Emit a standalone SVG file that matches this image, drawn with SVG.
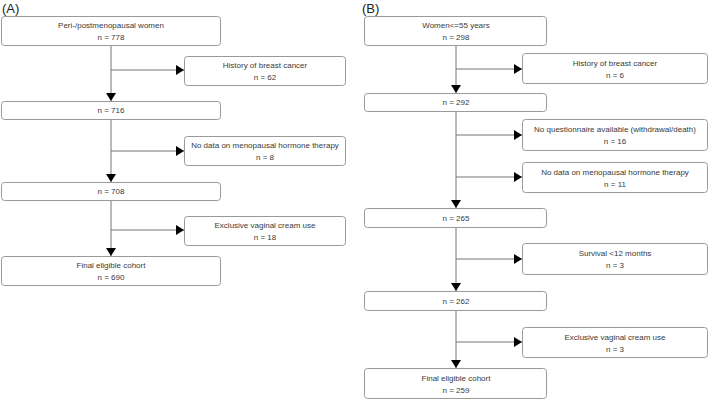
<svg xmlns="http://www.w3.org/2000/svg" width="709" height="400" viewBox="0 0 709 400">
<defs>
<style>
.box{fill:#fff;stroke:#9a9a9a;stroke-width:1}
.t{font-family:"Liberation Sans",Arial,sans-serif;font-size:8px;fill:#3a3a3a;text-anchor:middle}
.lab{font-family:"Liberation Sans",Arial,sans-serif;font-size:13px;fill:#222}
.c{stroke:#777;stroke-width:1;fill:none}
</style>
<marker id="ah" markerWidth="9" markerHeight="10" refX="8" refY="5" orient="auto" markerUnits="userSpaceOnUse">
<path d="M0,0 L8,5 L0,10 Z" fill="#000"/>
</marker>
</defs>
<rect width="709" height="400" fill="#fff"/>
<text class="lab" x="2" y="13">(A)</text>
<text class="lab" x="362" y="13">(B)</text>
<g id="connectors">
<line class="c" x1="111" y1="45" x2="111" y2="101" marker-end="url(#ah)"/>
<line class="c" x1="111" y1="70" x2="184" y2="70" marker-end="url(#ah)"/>
<line class="c" x1="111" y1="119" x2="111" y2="182" marker-end="url(#ah)"/>
<line class="c" x1="111" y1="151" x2="184" y2="151" marker-end="url(#ah)"/>
<line class="c" x1="111" y1="200" x2="111" y2="256" marker-end="url(#ah)"/>
<line class="c" x1="111" y1="230" x2="184" y2="230" marker-end="url(#ah)"/>
<line class="c" x1="456" y1="45" x2="456" y2="93" marker-end="url(#ah)"/>
<line class="c" x1="456" y1="69" x2="522" y2="69" marker-end="url(#ah)"/>
<line class="c" x1="456" y1="111" x2="456" y2="208" marker-end="url(#ah)"/>
<line class="c" x1="456" y1="135" x2="522" y2="135" marker-end="url(#ah)"/>
<line class="c" x1="456" y1="177" x2="522" y2="177" marker-end="url(#ah)"/>
<line class="c" x1="456" y1="227" x2="456" y2="291" marker-end="url(#ah)"/>
<line class="c" x1="456" y1="259" x2="522" y2="259" marker-end="url(#ah)"/>
<line class="c" x1="456" y1="310" x2="456" y2="368" marker-end="url(#ah)"/>
<line class="c" x1="456" y1="342" x2="522" y2="342" marker-end="url(#ah)"/>
</g>
<g id="A1"><rect class="box" x="1.5" y="16.5" width="219" height="29" rx="3"/><text class="t" x="111" y="28">Peri-/postmenopausal women</text><text class="t" x="111" y="40">n = 778</text></g>
<g id="A2"><rect class="box" x="184.5" y="56.5" width="161" height="29" rx="3"/><text class="t" x="265" y="68">History of breast cancer</text><text class="t" x="265" y="80">n = 62</text></g>
<g id="A3"><rect class="box" x="1.5" y="101.5" width="219" height="18" rx="3"/><text class="t" x="111" y="113">n = 716</text></g>
<g id="A4"><rect class="box" x="184.5" y="136.5" width="161" height="29" rx="3"/><text class="t" x="265" y="148">No data on menopausal hormone therapy</text><text class="t" x="265" y="160">n = 8</text></g>
<g id="A5"><rect class="box" x="1.5" y="182.5" width="219" height="18" rx="3"/><text class="t" x="111" y="194">n = 708</text></g>
<g id="A6"><rect class="box" x="184.5" y="216.5" width="161" height="29" rx="3"/><text class="t" x="265" y="228">Exclusive vaginal cream use</text><text class="t" x="265" y="240">n = 18</text></g>
<g id="A7"><rect class="box" x="1.5" y="256.5" width="219" height="29" rx="3"/><text class="t" x="111" y="268">Final eligible cohort</text><text class="t" x="111" y="280">n = 690</text></g>
<g id="B1"><rect class="box" x="364.5" y="16.5" width="182" height="29" rx="3"/><text class="t" x="456" y="28">Women&lt;=55 years</text><text class="t" x="456" y="40">n = 298</text></g>
<g id="B2"><rect class="box" x="522.5" y="53.5" width="185" height="30" rx="3"/><text class="t" x="615" y="66">History of breast cancer</text><text class="t" x="615" y="78">n = 6</text></g>
<g id="B3"><rect class="box" x="364.5" y="93.5" width="182" height="18" rx="3"/><text class="t" x="456" y="105">n = 292</text></g>
<g id="B4"><rect class="box" x="522.5" y="119.5" width="185" height="31" rx="3"/><text class="t" x="615" y="132">No questionnaire available (withdrawal/death)</text><text class="t" x="615" y="144">n = 16</text></g>
<g id="B5"><rect class="box" x="522.5" y="162.5" width="185" height="30" rx="3"/><text class="t" x="615" y="175">No data on menopausal hormone therapy</text><text class="t" x="615" y="187">n = 11</text></g>
<g id="B6"><rect class="box" x="364.5" y="208.5" width="182" height="19" rx="3"/><text class="t" x="456" y="221">n = 265</text></g>
<g id="B7"><rect class="box" x="522.5" y="243.5" width="185" height="31" rx="3"/><text class="t" x="615" y="256">Survival &lt;12 months</text><text class="t" x="615" y="268">n = 3</text></g>
<g id="B8"><rect class="box" x="364.5" y="291.5" width="182" height="19" rx="3"/><text class="t" x="456" y="304">n = 262</text></g>
<g id="B9"><rect class="box" x="522.5" y="327.5" width="185" height="30" rx="3"/><text class="t" x="615" y="340">Exclusive vaginal cream use</text><text class="t" x="615" y="352">n = 3</text></g>
<g id="B10"><rect class="box" x="364.5" y="368.5" width="182" height="30" rx="3"/><text class="t" x="456" y="381">Final eligible cohort</text><text class="t" x="456" y="393">n = 259</text></g>
</svg>
